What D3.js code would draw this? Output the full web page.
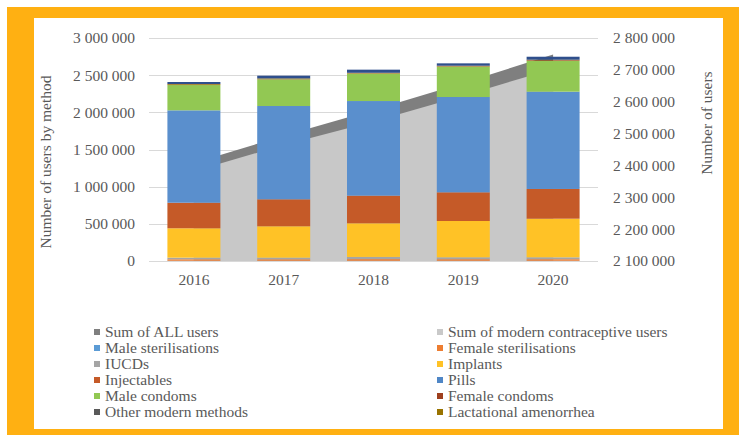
<!DOCTYPE html>
<html>
<head>
<meta charset="utf-8">
<script src="https://cdn.jsdelivr.net/npm/d3@7/dist/d3.min.js"></script>
<style>
  html, body { margin: 0; padding: 0; background: #ffffff; }
  svg { display: block; }
</style>
</head>
<body>
<svg id="chart" width="739" height="435"></svg>
<script>
// ---------------- DATA ----------------
const years = ["2016", "2017", "2018", "2019", "2020"];

// stacked bar series (left axis), bottom to top
const maleSterilisations   = [3000, 3000, 3000, 3000, 3000];
const femaleSterilisations = [20000, 20000, 22000, 21000, 21000];
const iucds                = [22000, 22000, 30000, 26000, 26000];
const implants             = [395000, 422000, 452000, 488000, 519000];
const injectables          = [344000, 363000, 372000, 386000, 400000];
const pills                = [1243000, 1255000, 1273000, 1282000, 1309000];
const maleCondoms          = [340000, 359000, 368000, 408000, 416000];
const femaleCondoms        = [4000, 4000, 4000, 5000, 8000];
const lactationalAmen      = [10000, 8000, 8000, 8000, 6000];
const otherModern          = [27000, 37000, 42000, 32000, 40000];

// area series (right axis)
const sumAllUsers    = [2408000, 2493000, 2574000, 2659000, 2748000];
const sumModernUsers = [2382000, 2464000, 2538000, 2619000, 2703000];

// axis ticks
const leftTicks  = [0, 500000, 1000000, 1500000, 2000000, 2500000, 3000000];
const rightTicks = [2100000, 2200000, 2300000, 2400000, 2500000, 2600000, 2700000, 2800000];

// ---------------- STYLE ----------------
const barSeries = [
  { name: "Male sterilisations",   values: maleSterilisations,   color: "#5b9bd5" },
  { name: "Female sterilisations", values: femaleSterilisations, color: "#ed7d31" },
  { name: "IUCDs",                 values: iucds,                color: "#a5a5a5" },
  { name: "Implants",              values: implants,             color: "#ffc226" },
  { name: "Injectables",           values: injectables,          color: "#c55a28" },
  { name: "Pills",                 values: pills,                color: "#5a8fcd" },
  { name: "Male condoms",          values: maleCondoms,          color: "#92c853" },
  { name: "Female condoms",        values: femaleCondoms,        color: "#9e3f1e" },
  { name: "Lactational amenorrhea",values: lactationalAmen,      color: "#997300" },
  { name: "Other modern methods",  values: otherModern,          color: "#2f4f8c" }
];

const legendItems = [
  ["Sum of ALL users", "#7f7f7f"],
  ["Sum of modern contraceptive users", "#c9c9c9"],
  ["Male sterilisations", "#5b9bd5"],
  ["Female sterilisations", "#ed7d31"],
  ["IUCDs", "#a5a5a5"],
  ["Implants", "#ffc226"],
  ["Injectables", "#c55a28"],
  ["Pills", "#4f86c6"],
  ["Male condoms", "#92c853"],
  ["Female condoms", "#9e3f1e"],
  ["Other modern methods", "#595959"],
  ["Lactational amenorrhea", "#997300"]
];

const svg = d3.select("#chart");

// ---- font selection: want Times-like metrics ----
const probeStr = "Sum of modern contraceptive users";
const targetW = 1416; // Times metrics at 100px
const candidates = ["Liberation Serif", "Times New Roman", "Tinos", "Times", "Noto Serif", "DejaVu Serif", "serif"];
const probe = svg.append("text").style("font-size", "100px").text(probeStr);
let best = candidates[candidates.length - 1], bestW = 1e9, bestDiff = 1e9;
candidates.forEach(f => {
  probe.style("font-family", `"${f}"`);
  if (f === "serif") probe.style("font-family", "serif");
  const w = probe.node().getComputedTextLength();
  const diff = Math.abs(w - targetW);
  if (diff < bestDiff - 5) { bestDiff = diff; best = f; bestW = w; }
});
probe.remove();
const FAMILY = best === "serif" ? "serif" : `"${best}"`;
let size = 15.5;
if (bestDiff > 40) size = 15.5 * targetW / bestW;
const FS = size.toFixed(2) + "px";
const styleText = sel => sel.style("font-family", FAMILY).style("font-size", FS).attr("fill", "#595959");

// frame
svg.append("rect").attr("x", 7).attr("y", 7).attr("width", 732).attr("height", 428).attr("fill", "#ffb012");
svg.append("rect").attr("x", 34).attr("y", 18).attr("width", 689).attr("height", 411).attr("fill", "#ffffff");

// scales
const plotL = 149, plotR = 598, plotT = 38, plotB = 261;
const x = d3.scaleBand().domain(years).range([plotL, plotR]).paddingInner(0.41).paddingOuter(0.205);
const yL = d3.scaleLinear().domain([0, 3000000]).range([plotB, plotT]);
const yR = d3.scaleLinear().domain([2100000, 2800000]).range([plotB, plotT]);

const loc = d3.formatLocale({ decimal: ".", thousands: " ", grouping: [3], currency: ["", ""] });
const fmt = loc.format(",");

// gridlines
svg.append("g").selectAll("line").data(leftTicks).join("line")
  .attr("x1", plotL).attr("x2", plotR)
  .attr("y1", d => Math.round(yL(d)) + 0.5).attr("y2", d => Math.round(yL(d)) + 0.5)
  .attr("stroke", "#d9d9d9").attr("stroke-width", 1);

// areas (secondary axis)
const cx = d => x(d) + x.bandwidth() / 2;
const areaGen = d3.area().x((d, i) => cx(years[i])).y0(plotB).y1(d => yR(d));
svg.append("path").datum(sumAllUsers).attr("d", areaGen).attr("fill", "#7f7f7f");
svg.append("path").datum(sumModernUsers).attr("d", areaGen).attr("fill", "#c8c8c8");

// stacked bars
const rows = years.map((yr, i) => {
  const r = { year: yr };
  barSeries.forEach(s => { r[s.name] = s.values[i]; });
  return r;
});
const stacked = d3.stack().keys(barSeries.map(s => s.name))(rows);
svg.append("g").selectAll("g").data(stacked).join("g")
  .attr("fill", (d, i) => barSeries[i].color)
  .selectAll("rect").data(d => d).join("rect")
  .attr("x", d => x(d.data.year))
  .attr("width", x.bandwidth())
  .attr("y", d => yL(d[1]))
  .attr("height", d => yL(d[0]) - yL(d[1]));

// left axis
const gL = svg.append("g").attr("transform", "translate(135,0)")
  .call(d3.axisLeft(yL).tickValues(leftTicks).tickFormat(fmt).tickSize(0).tickPadding(0));
gL.select(".domain").remove();
gL.selectAll("text").call(styleText);

// right axis
const gR = svg.append("g").attr("transform", "translate(613,0)")
  .call(d3.axisRight(yR).tickValues(rightTicks).tickFormat(fmt).tickSize(0).tickPadding(0));
gR.select(".domain").remove();
gR.selectAll("text").call(styleText);

// bottom axis
const gB = svg.append("g").attr("transform", `translate(0,${plotB})`)
  .call(d3.axisBottom(x).tickSize(0).tickPadding(0));
gB.select(".domain").remove();
gB.selectAll("text").call(styleText).attr("dy", null).attr("y", 24);

// axis titles
svg.append("text").attr("transform", "translate(51,162) rotate(-90)")
  .attr("text-anchor", "middle").call(styleText).text("Number of users by method");
svg.append("text").attr("transform", "translate(712,123) rotate(-90)")
  .attr("text-anchor", "middle").call(styleText).text("Number of users");

// legend
const lg = svg.append("g");
legendItems.forEach((it, i) => {
  const col = i % 2, row = Math.floor(i / 2);
  const sx = col === 0 ? 94 : 437;
  const tx = col === 0 ? 105 : 448;
  const cy = 332 + row * 16;
  lg.append("rect").attr("x", sx).attr("y", cy - 3).attr("width", 6).attr("height", 6).attr("fill", it[1]);
  lg.append("text").attr("x", tx).attr("y", cy + 5).call(styleText).text(it[0]);
});
</script>
</body>
</html>
